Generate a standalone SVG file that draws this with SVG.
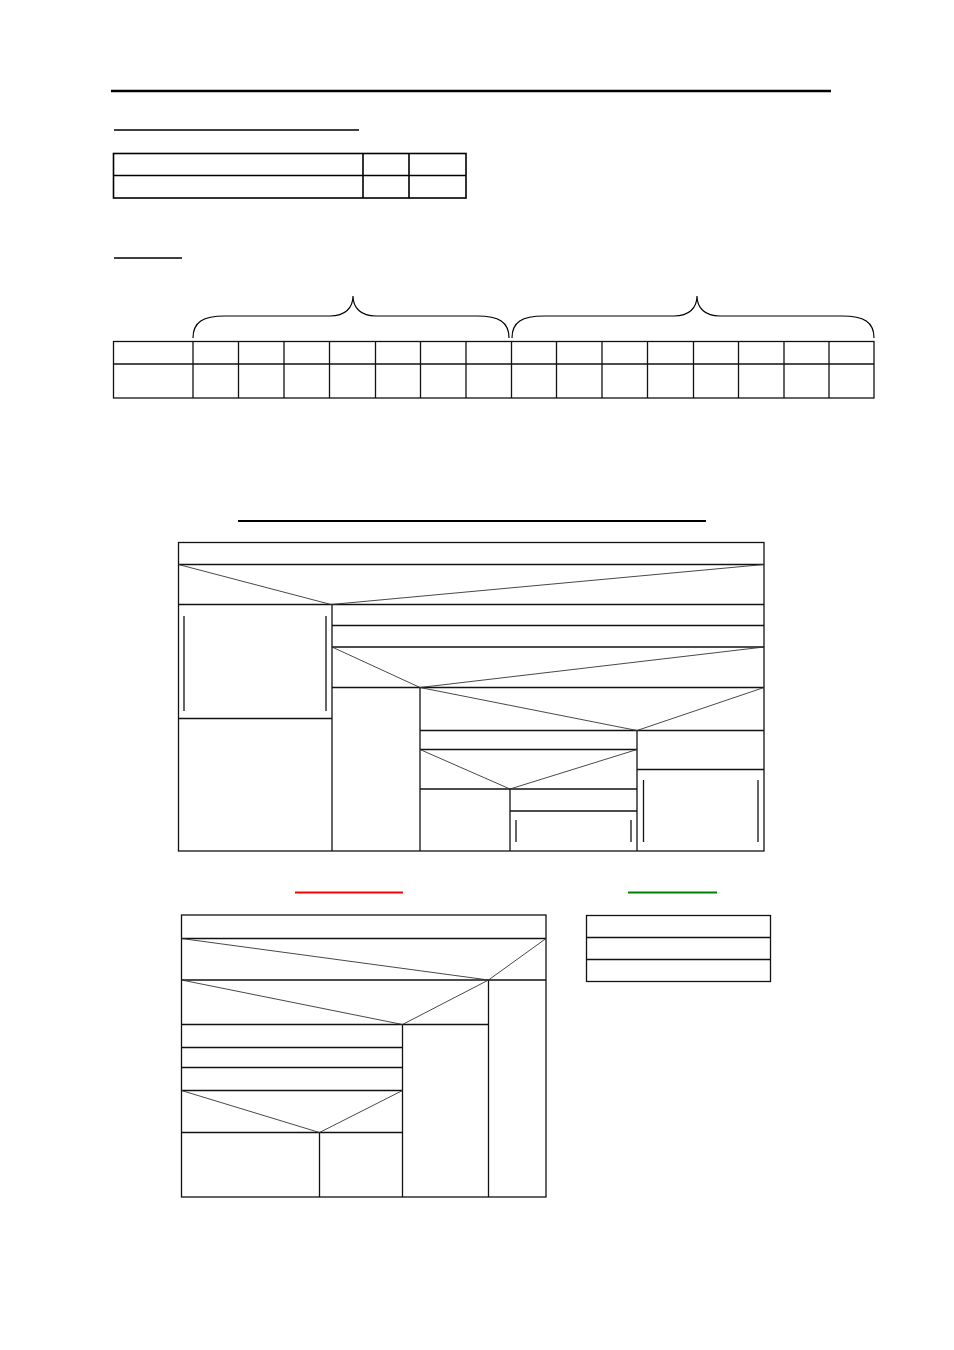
<svg xmlns="http://www.w3.org/2000/svg" width="954" height="1350" viewBox="0 0 954 1350">
<style>
.b{fill:none;stroke:#111;stroke-width:1.3}
.t{fill:none;stroke:#000;stroke-width:1.6}
.d{fill:none;stroke:#333;stroke-width:0.9}
.u{stroke:#000;stroke-width:1.6}
</style>
<rect width="954" height="1350" fill="#fff"/>
<g id="header">
<line x1="111" y1="91" x2="831" y2="91" stroke="#000" stroke-width="2.5"/>
<line class="u" x1="114" y1="130" x2="359" y2="130"/>
</g>
<g id="table1">
<rect class="t" x="113.5" y="153.5" width="352.5" height="44.5"/>
<line class="t" x1="113.5" y1="175.5" x2="466" y2="175.5"/>
<line class="t" x1="363" y1="153.5" x2="363" y2="198"/>
<line class="t" x1="409" y1="153.5" x2="409" y2="198"/>
</g>
<line class="u" id="underline2" x1="114" y1="258" x2="182" y2="258"/>
<g id="braces" fill="none" stroke="#000" stroke-width="1.2">
<path d="M193,338 C193,322 203,316 225,316 L330,316 C345,316 353,308 353,296 C353,308 361,316 376,316 L477,316 C499,316 509,322 509,338"/>
<path d="M512,338 C512,322 522,316 544,316 L674,316 C689,316 697,308 697,296 C697,308 705,316 720,316 L842,316 C864,316 874,322 874,338"/>
</g>
<g id="table2" class="b">
<rect x="113.5" y="341.5" width="760.5" height="56.5"/>
<line x1="113.5" y1="364" x2="874" y2="364"/>
<path d="M193,341.5V398M238.5,341.5V398M284,341.5V398M329.5,341.5V398M375.5,341.5V398M420.5,341.5V398M466,341.5V398M511.5,341.5V398M556.5,341.5V398M602,341.5V398M647.5,341.5V398M693.5,341.5V398M738.5,341.5V398M784,341.5V398M829,341.5V398"/>
</g>
<line id="underline3" x1="238" y1="521" x2="706" y2="521" stroke="#000" stroke-width="2"/>
<g id="chart1">
<g class="b">
<rect x="178.5" y="542.5" width="585.5" height="308.5"/>
<line x1="178.5" y1="564.5" x2="764" y2="564.5"/>
<line x1="178.5" y1="604.5" x2="764" y2="604.5"/>
<line x1="332" y1="604.5" x2="332" y2="851"/>
<line x1="332" y1="625.5" x2="764" y2="625.5"/>
<line x1="332" y1="647" x2="764" y2="647"/>
<line x1="332" y1="687.5" x2="764" y2="687.5"/>
<line x1="420" y1="687.5" x2="420" y2="851"/>
<line x1="178.5" y1="718.5" x2="332" y2="718.5"/>
<line x1="184" y1="616" x2="184" y2="711"/>
<line x1="326" y1="616" x2="326" y2="711"/>
<line x1="420" y1="730.5" x2="764" y2="730.5"/>
<line x1="637" y1="730.5" x2="637" y2="851"/>
<line x1="420" y1="749.5" x2="637" y2="749.5"/>
<line x1="420" y1="789" x2="637" y2="789"/>
<line x1="510" y1="789" x2="510" y2="851"/>
<line x1="510" y1="811" x2="637" y2="811"/>
<line x1="516" y1="820" x2="516" y2="842"/>
<line x1="631" y1="820" x2="631" y2="842"/>
<line x1="637" y1="769.5" x2="764" y2="769.5"/>
<line x1="643.5" y1="780" x2="643.5" y2="842"/>
<line x1="758" y1="780" x2="758" y2="842"/>
</g>
<g class="d">
<polyline points="178.5,564.5 331,604.5 764,564.5"/>
<polyline points="332,647 420,687.5 764,647"/>
<polyline points="420,687.5 637,730.5 764,687.5"/>
<polyline points="420,749.5 510,789 637,749.5"/>
</g>
</g>
<line id="red-underline" x1="295" y1="892.5" x2="403" y2="892.5" stroke="#ff0000" stroke-width="2"/>
<g id="chart2">
<g class="b">
<rect x="181.5" y="915" width="364.5" height="282"/>
<line x1="181.5" y1="938.5" x2="546" y2="938.5"/>
<line x1="181.5" y1="980" x2="546" y2="980"/>
<line x1="488.5" y1="980" x2="488.5" y2="1197"/>
<line x1="181.5" y1="1024.5" x2="488.5" y2="1024.5"/>
<line x1="402.5" y1="1024.5" x2="402.5" y2="1197"/>
<line x1="181.5" y1="1047.5" x2="402.5" y2="1047.5"/>
<line x1="181.5" y1="1067.5" x2="402.5" y2="1067.5"/>
<line x1="181.5" y1="1090.5" x2="402.5" y2="1090.5"/>
<line x1="181.5" y1="1132.5" x2="402.5" y2="1132.5"/>
<line x1="319.5" y1="1132.5" x2="319.5" y2="1197"/>
</g>
<g class="d">
<polyline points="181.5,938.5 488.5,980 546,938.5"/>
<polyline points="181.5,980 402.5,1024.5 488.5,980"/>
<polyline points="181.5,1090.5 319.5,1132.5 402.5,1090.5"/>
</g>
</g>
<line id="green-underline" x1="628" y1="892.5" x2="717" y2="892.5" stroke="#008000" stroke-width="2"/>
<g id="table3" class="b">
<rect x="586.5" y="915.5" width="184" height="66"/>
<line x1="586.5" y1="937.5" x2="770.5" y2="937.5"/>
<line x1="586.5" y1="959.5" x2="770.5" y2="959.5"/>
</g>
</svg>
